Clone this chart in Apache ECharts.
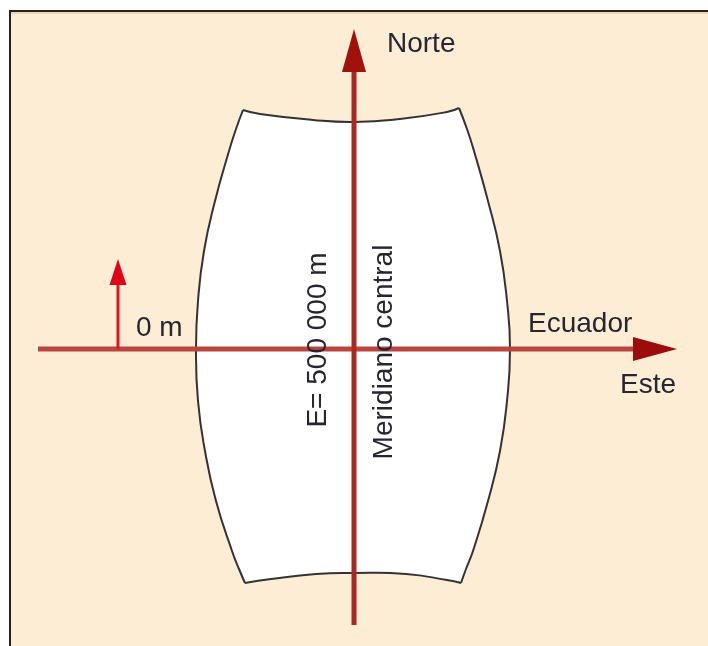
<!DOCTYPE html>
<html>
<head>
<meta charset="utf-8">
<script src="https://cdn.jsdelivr.net/npm/echarts@6/dist/echarts.min.js"></script>
<style>
  html, body { margin: 0; padding: 0; background: #ffffff; }
  #frame {
    position: absolute; left: 9px; top: 10px; width: 699px; height: 636px;
    border-left: 2px solid #222; border-top: 2px solid #222;
    background: #feedd5; box-shadow: inset 0 2px 0 #f8d2ac;
  }
  #chart { position: absolute; left: 0; top: 0; width: 708px; height: 646px; }
</style>
</head>
<body>
<div id="frame"></div>
<div id="chart"></div>
<script>
// diagram units: origin where the central meridian crosses the equator, y up

// zone outline
const lensTop = [[-111, 239], [-94, 235], [-41, 229], [0, 227], [46, 230], [93, 237], [105, 241]];
const lensRight = [[105, 241], [113, 220], [120, 198], [134, 148], [146, 98], [153, 48], [156, 0], [153, -52], [146, -102], [134, -152], [119, -202], [112, -220], [107, -234]];
const lensBottom = [[-109, -234], [-83, -230], [-38, -225], [0, -224], [52, -225], [93, -231], [107, -234]];
const lensLeft = [[-109, -234], [-115, -220], [-122, -202], [-138, -152], [-149, -102], [-156, -52], [-158, 0], [-156, 48], [-150, 98], [-139, 148], [-125, 198], [-118, 220], [-111, 239]];

// axes drawn as arrows: [start, tip]
const meridianArrow = [[0, -276], [0, 320]];
const equatorArrow = [[-316, 0], [323, 0]];
const zeroArrow = [[-236, 0], [-236, 90]];

// labels
const labelTexts = ['Norte', 'Ecuador', 'Este', '0 m', 'E= 500 000 m', 'Meridiano central'];
const labelAnchors = [[33, 305], [174, 25], [266, -36], [-218, 21], [-36, 9], [30, -3]];
const labelVertical = [false, false, false, false, true, true];

const chart = echarts.init(document.getElementById('chart'));

// arrow = shaft + triangular head, placed through the axes scales
const arrowSeries = (pts, lineColor, lineWidth, headColor, headLen, headW) => ({
  type: 'custom',
  coordinateSystem: 'cartesian2d',
  silent: true,
  data: [[pts[0][0], pts[0][1], pts[1][0], pts[1][1]]],
  encode: { x: [0, 2], y: [1, 3] },
  renderItem: (params, api) => {
    const a = api.coord([api.value(0), api.value(1)])
    const b = api.coord([api.value(2), api.value(3)])
    const dx = b[0] - a[0]
    const dy = b[1] - a[1]
    const len = Math.hypot(dx, dy)
    const ux = dx / len
    const uy = dy / len
    const base = [b[0] - ux * headLen, b[1] - uy * headLen]
    const nx = -uy
    const ny = ux
    return {
      type: 'group',
      children: [
        {
          type: 'line',
          shape: { x1: a[0], y1: a[1], x2: base[0] + ux * 2, y2: base[1] + uy * 2 },
          style: { stroke: lineColor, lineWidth: lineWidth }
        },
        {
          type: 'polygon',
          shape: {
            points: [
              b,
              [base[0] + nx * headW / 2, base[1] + ny * headW / 2],
              [base[0] - nx * headW / 2, base[1] - ny * headW / 2]
            ]
          },
          style: { fill: headColor }
        }
      ]
    }
  }
})

const lensSeries = {
  type: 'custom',
  coordinateSystem: 'cartesian2d',
  silent: true,
  data: [[0, 0]],
  renderItem: (params, api) => {
    const toPx = (arr) => arr.map(p => api.coord(p))
    const top = toPx(lensTop)
    const right = toPx(lensRight)
    const bottom = toPx(lensBottom)
    const left = toPx(lensLeft)
    const outline = top
      .concat(right.slice(1))
      .concat(bottom.slice().reverse().slice(1))
      .concat(left.slice(1))
    const edge = (pts) => ({
      type: 'polyline',
      shape: { points: pts, smooth: 0.5 },
      style: { stroke: '#333333', lineWidth: 2, fill: null }
    })
    return {
      type: 'group',
      children: [
        { type: 'polygon', shape: { points: outline }, style: { fill: '#ffffff' } },
        edge(top), edge(right), edge(bottom), edge(left)
      ]
    }
  }
}

const labelSeries = {
  type: 'custom',
  coordinateSystem: 'cartesian2d',
  silent: true,
  data: labelAnchors.map((p, i) => [p[0], p[1], i]),
  renderItem: (params, api) => {
    const i = api.value(2)
    const pt = api.coord([api.value(0), api.value(1)])
    const vertical = labelVertical[i]
    return {
      type: 'text',
      x: pt[0],
      y: pt[1],
      rotation: vertical ? Math.PI / 2 : 0,
      style: {
        text: labelTexts[i],
        fill: '#262630',
        font: '28px "Liberation Sans", Arial, sans-serif',
        align: vertical ? 'center' : 'left',
        verticalAlign: 'middle'
      }
    }
  }
}

const option = {
  animation: false,
  backgroundColor: 'transparent',
  grid: { left: 0, right: 0, top: 0, bottom: 0 },
  xAxis: { type: 'value', min: -354, max: 354, show: false },
  yAxis: { type: 'value', min: -297, max: 349, show: false },
  series: [
    lensSeries,
    arrowSeries(equatorArrow, '#b8463e', 5, '#9c0c0a', 44, 24),
    arrowSeries(meridianArrow, '#aa2820', 5, '#a0120c', 43, 24),
    arrowSeries(zeroArrow, '#e4121f', 3, '#e0041a', 26, 17),
    labelSeries
  ]
}

chart.setOption(option)
</script>
</body>
</html>
